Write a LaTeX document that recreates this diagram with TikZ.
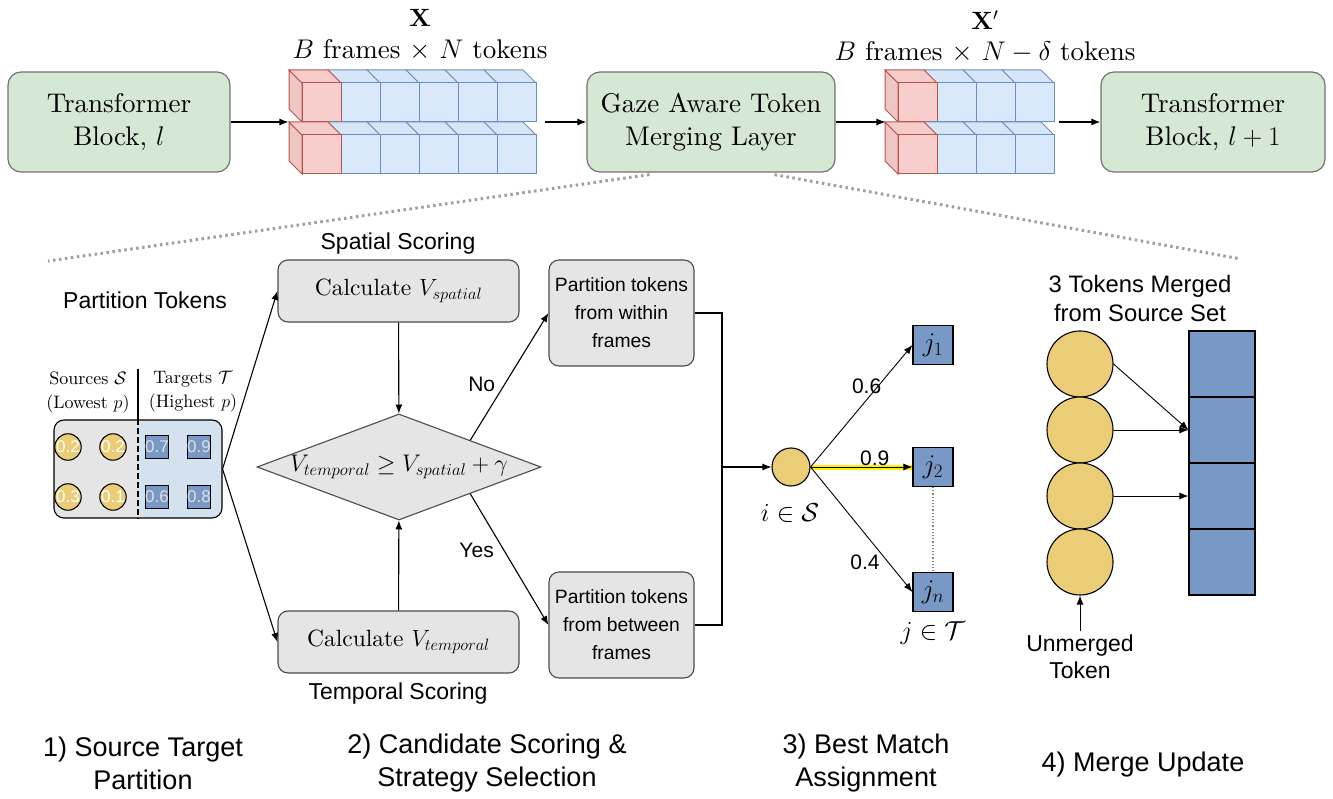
\RequirePackage{fix-cm}
\documentclass[tikz,border=0pt]{standalone}
\usepackage{amsmath, amssymb}
\usepackage{fontspec}
\setmainfont{lmroman10-regular.otf}[BoldFont=lmroman10-bold.otf, ItalicFont=lmroman10-italic.otf]
\newfontfamily\arial{Liberation Sans}
\usepackage{tikz}
\usetikzlibrary{shapes.geometric, calc, arrows.meta}

\begin{document}
\begin{tikzpicture}[x=1pt, y=-1pt, >={Latex[length=9pt,width=7pt]}, line width=1.1pt,
    blockbox/.style={draw=black!55, fill=boxgreen, rounded corners=13pt, line width=1.2pt,
        minimum height=100, align=center, font=\fontsize{27}{33}\selectfont},
    graybox/.style={draw=black!70, fill=gray!20, rounded corners=10pt, align=center},
    sanslabel/.style={font=\arial\fontsize{23}{27}\selectfont, align=center},
    steplabel/.style={font=\arial\fontsize{27}{33}\selectfont, align=center},
    numlabel/.style={font=\arial\fontsize{21}{24}\selectfont},
    srctok/.style={circle, draw=black, fill=tokyellow, inner sep=0pt},
    tgttok/.style={rectangle, draw=black, fill=tokblue, inner sep=0pt},
    zoomline/.style={gray!75, line width=3pt, dash pattern=on 2.5pt off 3.5pt}]

    \definecolor{boxgreen}{HTML}{D5E8D4}
    \definecolor{tokyellow}{HTML}{EACD76}
    \definecolor{tokblue}{HTML}{7898C6}
    \definecolor{cubered}{HTML}{F8CECC}
    \definecolor{cuberedline}{HTML}{B85450}
    \definecolor{cubeblue}{HTML}{DAE8FC}
    \definecolor{cubeblueline}{HTML}{6C8EBF}
    \definecolor{partblue}{HTML}{D4E1EE}

    \useasboundingbox (0,0) rectangle (1333,799);

    % --- LAYER 1: TOP ROW OF BLOCKS ---
    \node[blockbox, minimum width=222] (tbA) at (119,122) {Transformer\\Block, $l$};
    \node[blockbox, minimum width=248] (gaze) at (711,122) {Gaze Aware Token\\Merging Layer};
    \node[blockbox, minimum width=224] (tbB) at (1213,122) {Transformer\\Block, $l+1$};

    % --- LAYER 2: TOKEN CUBES (drawn right to left so fronts cover sides) ---
    \foreach \xs/\nb/\sname in {302/5/stackA, 898/3/stackB} {
        \foreach \yy in {83, 135} {
            \foreach \k in {\nb,...,1} {
                \pgfmathsetmacro{\xx}{\xs+39*\k}
                \filldraw[fill=cubeblue!85!black!10!cubeblue, draw=cubeblueline, line width=1pt]
                    (\xx,\yy) -- (\xx-13,\yy-13) -- (\xx+26,\yy-13) -- (\xx+39,\yy) -- cycle;
                \filldraw[fill=cubeblue, draw=cubeblueline, line width=1pt] (\xx,\yy) rectangle (\xx+39,\yy+39);
            }
            % red leading token
            \filldraw[fill=cubered!80!black!20!cubered, draw=cuberedline, line width=1pt]
                (\xs,\yy) -- (\xs-13,\yy-13) -- (\xs-13,\yy+26) -- (\xs,\yy+39) -- cycle;
            \filldraw[fill=cubered!90!black!8!cubered, draw=cuberedline, line width=1pt]
                (\xs,\yy) -- (\xs-13,\yy-13) -- (\xs+26,\yy-13) -- (\xs+39,\yy) -- cycle;
            \filldraw[fill=cubered, draw=cuberedline, line width=1pt] (\xs,\yy) rectangle (\xs+39,\yy+39);
        }
    }
    \node[minimum width=247, minimum height=104, inner sep=0pt] (stackA) at (412.5,122) {};
    \node[minimum width=168, minimum height=104, inner sep=0pt] (stackB) at (970,122) {};

    % --- LAYER 3: TENSOR LABELS ---
    \node[font=\fontsize{25}{30}\selectfont] (xlab) at (420,18) {$\mathbf{X}$};
    \node[font=\fontsize{27}{30}\selectfont] (xdim) at (420,50) {$B$ frames $\times$ $N$ tokens};
    \node[font=\fontsize{25}{30}\selectfont] (xplab) at (985,20) {$\mathbf{X}'$};
    \node[font=\fontsize{27}{30}\selectfont] (xpdim) at (985,52) {$B$ frames $\times$ $N-\delta$ tokens};

    \draw[->] (tbA) -- (stackA);
    \draw[->, shorten <=8pt] (stackA) -- (gaze);
    \draw[->] (gaze) -- (stackB);
    \draw[->, shorten <=4pt] (stackB) -- (tbB);

    % --- LAYER 4: ZOOM LINES ---
    \coordinate (zoomL) at (48,261);
    \coordinate (zoomR) at (1241,259);
    \draw[zoomline] ($(gaze.south west)+(63,2)$) -- (zoomL);
    \draw[zoomline] ($(gaze.south east)+(-61,2)$) -- (zoomR);

    % --- LAYER 5: SOURCE TARGET PARTITION ---
    \node[sanslabel] (ptitle) at (145,300) {Partition Tokens};
    \node[draw=black, fill=gray!20, rounded corners=10pt, minimum width=168, minimum height=98,
        path picture={\fill[partblue] (path picture bounding box.north) rectangle (path picture bounding box.south east);}]
        (part) at (138,469) {};
    \draw[line width=1.8pt, dash pattern=on 6pt off 3pt] (part.north) -- (part.south);
    \draw[line width=1.8pt] (part.north) -- ++(0,-50);
    \node[font=\fontsize{18}{24}\selectfont, align=center] (srchead) at (88,392) {Sources $\mathcal{S}$\\(Lowest $p$)};
    \node[font=\fontsize{18}{24}\selectfont, align=center] (tgthead) at (193,392) {Targets $\mathcal{T}$\\(Highest $p$)};
    \foreach \xx/\yy/\val [count=\n] in {68/447/0.2, 113/447/0.2, 68/497/0.3, 113/497/0.1} {
        \node[srctok, minimum size=26, font=\arial\fontsize{17}{17}\selectfont, text=white] (s\n) at (\xx,\yy) {\val};
    }
    \foreach \xx/\yy/\val [count=\n] in {157/447/0.7, 199/447/0.9, 157/497/0.6, 199/497/0.8} {
        \node[tgttok, minimum size=23, font=\arial\fontsize{17}{17}\selectfont, text=white!88!black] (t\n) at (\xx,\yy) {\val};
    }

    % --- LAYER 6: CANDIDATE SCORING ---
    \node[graybox, minimum width=241, minimum height=62, font=\fontsize{23.5}{26}\selectfont] (spatial) at (398.5,291) {Calculate $V_{spatial}$};
    \node[graybox, minimum width=241, minimum height=62, font=\fontsize{23.5}{26}\selectfont] (temporal) at (398.5,642) {Calculate $V_{temporal}$};
    \node[sanslabel] (splab) at (398,244) {Spatial Scoring};
    \node[sanslabel] (tplab) at (398,694) {Temporal Scoring};
    \node[diamond, draw=black!70, fill=gray!20, aspect=2.68, inner sep=0pt, minimum width=284, minimum height=106,
        font=\fontsize{24}{28}\selectfont] (cond) at (399,467) {$V_{temporal} \geq V_{spatial} + \gamma$};
    \node[graybox, minimum width=145, minimum height=106, font=\arial\fontsize{19.3}{28}\selectfont] (within) at (621.5,313) {Partition tokens\\from within\\frames};
    \node[graybox, minimum width=145, minimum height=106, font=\arial\fontsize{19.3}{28}\selectfont] (between) at (621.5,625) {Partition tokens\\from between\\frames};

    \draw[->] (part.east) -- (spatial.west);
    \draw[->] (part.east) -- (temporal.west);
    \draw[->] (spatial) -- (cond);
    \draw[->] (temporal) -- (cond);
    \draw[->] (cond.north east) -- node[left, pos=0.44, numlabel, inner sep=9pt] {No} (within.west);
    \draw[->] (cond.south east) -- node[left, pos=0.435, numlabel, inner sep=10pt] {Yes} (between.west);

    % --- LAYER 7: BEST MATCH ASSIGNMENT ---
    \node[srctok, minimum size=38] (isrc) at (791,467) {};
    \node[font=\fontsize{26}{28}\selectfont] (ilab) at (790,513) {$i \in \mathcal{S}$};
    \node[tgttok, minimum width=40, minimum height=39, font=\fontsize{27}{28}\selectfont] (j1) at (933,345) {$j_1$};
    \node[tgttok, minimum width=40, minimum height=39, font=\fontsize{27}{28}\selectfont] (j2) at (933,467) {$j_2$};
    \node[tgttok, minimum width=40, minimum height=39, font=\fontsize{27}{28}\selectfont] (jn) at (933,592) {$j_n$};
    \node[font=\fontsize{26}{28}\selectfont] (jlab) at (933,633) {$j \in \mathcal{T}$};
    \draw[dotted, gray, line width=1.2pt] (j2) -- (jn);

    \coordinate (merge) at (722,467);
    \draw (within.east) -| (merge);
    \draw (between.east) -| (merge);
    \draw[->] (merge) -- (isrc);

    \draw[yellow, line width=5pt] (isrc.east) -- (j2.west);
    \draw[->, line width=0.9pt] (isrc.east) -- node[above, pos=0.55, numlabel, inner sep=6pt] {0.6} (j1.west);
    \draw[->, line width=0.9pt] (isrc.east) -- node[above, pos=0.63, numlabel, inner sep=1pt] {0.9} (j2.west);
    \draw[->, line width=0.9pt] (isrc.east) -- node[left, pos=0.76, numlabel, inner sep=8pt] {0.4} (jn.west);

    % --- LAYER 8: MERGE UPDATE ---
    \node[font=\arial\fontsize{23.8}{29}\selectfont, align=center] (mlab) at (1140,298) {3 Tokens Merged\\from Source Set};
    \foreach \yy [count=\n] in {364, 430, 496, 562} {
        \node[srctok, minimum size=66] (c\n) at (1080,\yy) {};
        \node[tgttok, minimum width=66, minimum height=66] (m\n) at (1222,\yy) {};
    }
    \draw[->, line width=0.9pt] (c1.east) -- (m2.west);
    \draw[->, line width=0.9pt] (c2.east) -- (m2.west);
    \draw[->, line width=0.9pt] (c3.east) -- (m3.west);
    \node[font=\arial\fontsize{23}{27}\selectfont, align=center] (unm) at (1080,657) {Unmerged\\Token};
    \draw[->, line width=0.9pt] (unm.north) -- (c4.south);

    % --- LAYER 9: STEP CAPTIONS ---
    \node[steplabel] (capA) at (143,763) {1) Source Target\\Partition};
    \node[steplabel] (capB) at (487,763) {2) Candidate Scoring \&\\Strategy Selection};
    \node[steplabel] (capC) at (866,763) {3) Best Match\\Assignment};
    \node[steplabel] (capD) at (1143,765) {4) Merge Update};

\end{tikzpicture}
\end{document}
